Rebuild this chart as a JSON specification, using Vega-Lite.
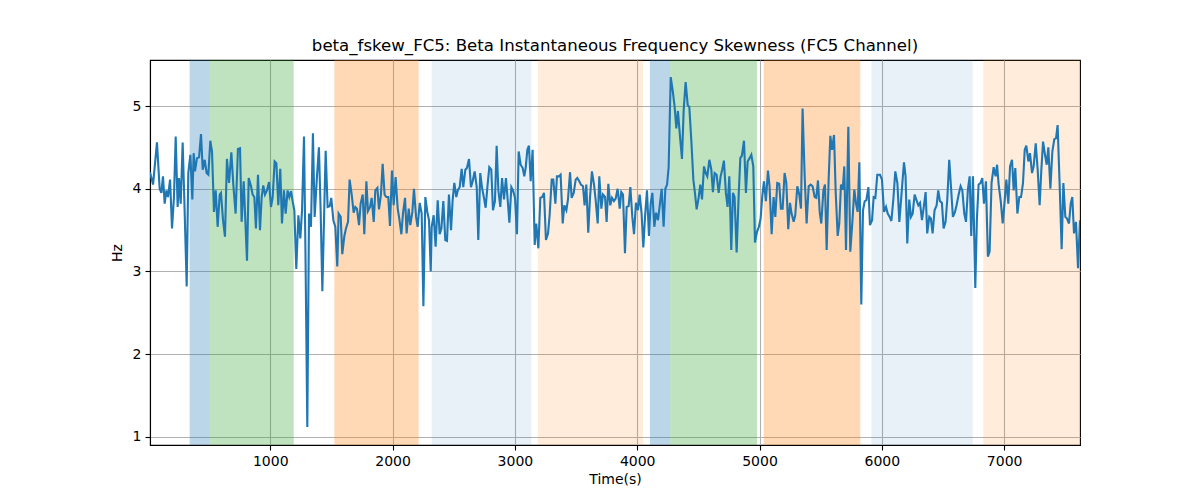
{
  "$schema": "https://vega.github.io/schema/vega-lite/v6.json",
  "width": 930,
  "height": 385,
  "autosize": {"type": "none"},
  "padding": {"left": 150, "top": 60, "right": 120, "bottom": 55},
  "background": "white",
  "title": {
    "text": "beta_fskew_FC5: Beta Instantaneous Frequency Skewness (FC5 Channel)",
    "font": "DejaVu Sans",
    "fontSize": 16.6,
    "fontWeight": "normal",
    "color": "black",
    "anchor": "middle",
    "offset": 5
  },
  "datasets": {
    "spans": [
      {"start": 341, "end": 505, "kind": "a"},
      {"start": 505, "end": 1192, "kind": "b"},
      {"start": 1524, "end": 2213, "kind": "c"},
      {"start": 2320, "end": 3134, "kind": "d"},
      {"start": 3188, "end": 4047, "kind": "e"},
      {"start": 4104, "end": 4270, "kind": "a"},
      {"start": 4270, "end": 4979, "kind": "b"},
      {"start": 5034, "end": 5824, "kind": "c"},
      {"start": 5914, "end": 6743, "kind": "d"},
      {"start": 6829, "end": 7620, "kind": "e"}
    ],
    "series": [
      {"t":17,"v":4.20},{"t":42,"v":4.05},{"t":74,"v":4.56},{"t":96,"v":4.00},{"t":110,"v":3.95},{"t":123,"v":4.15},{"t":137,"v":3.82},{"t":151,"v":3.98},{"t":164,"v":3.90},{"t":181,"v":4.11},{"t":197,"v":3.52},{"t":213,"v":3.90},{"t":227,"v":4.63},{"t":243,"v":3.78},{"t":254,"v":4.13},{"t":268,"v":3.82},{"t":284,"v":4.56},{"t":300,"v":3.74},{"t":317,"v":2.82},{"t":330,"v":4.19},{"t":347,"v":4.41},{"t":363,"v":3.87},{"t":374,"v":4.43},{"t":385,"v":4.21},{"t":401,"v":4.37},{"t":418,"v":4.38},{"t":434,"v":4.66},{"t":448,"v":4.23},{"t":464,"v":4.35},{"t":480,"v":4.19},{"t":494,"v":4.17},{"t":510,"v":4.58},{"t":524,"v":4.45},{"t":540,"v":3.72},{"t":554,"v":3.98},{"t":570,"v":3.54},{"t":587,"v":3.93},{"t":597,"v":3.95},{"t":614,"v":3.62},{"t":630,"v":3.42},{"t":646,"v":4.36},{"t":663,"v":4.07},{"t":682,"v":4.44},{"t":698,"v":4.05},{"t":717,"v":3.70},{"t":736,"v":4.48},{"t":753,"v":4.49},{"t":766,"v":3.60},{"t":783,"v":4.09},
      {"t":810,"v":3.13},{"t":824,"v":4.13},{"t":843,"v":4.03},{"t":856,"v":3.93},{"t":870,"v":3.90},{"t":883,"v":3.52},{"t":900,"v":4.17},{"t":916,"v":3.50},{"t":930,"v":3.90},{"t":943,"v":4.04},{"t":957,"v":3.93},{"t":973,"v":3.98},{"t":990,"v":4.08},{"t":1006,"v":3.78},{"t":1020,"v":3.90},{"t":1036,"v":4.33},{"t":1050,"v":4.31},{"t":1066,"v":3.80},{"t":1082,"v":4.24},{"t":1096,"v":3.58},{"t":1112,"v":3.98},{"t":1126,"v":3.70},{"t":1142,"v":3.98},{"t":1156,"v":3.90},{"t":1170,"v":3.97},{"t":1183,"v":3.85},{"t":1197,"v":3.74},{"t":1213,"v":3.03},{"t":1230,"v":3.68},{"t":1246,"v":3.40},{"t":1260,"v":3.74},{"t":1276,"v":4.63},{"t":1289,"v":3.10},{"t":1303,"v":1.12},{"t":1317,"v":3.70},{"t":1333,"v":3.54},{"t":1349,"v":4.67},{"t":1363,"v":3.66},{"t":1382,"v":4.15},{"t":1398,"v":4.50},{"t":1412,"v":3.74},{"t":1426,"v":2.76},{"t":1442,"v":3.78},{"t":1453,"v":4.46},{"t":1469,"v":3.78},{"t":1486,"v":3.79},{"t":1499,"v":3.89},{"t":1516,"v":3.62},{"t":1532,"v":3.54},{"t":1548,"v":3.06},
      {"t":1559,"v":3.70},{"t":1576,"v":3.66},{"t":1589,"v":3.21},{"t":1606,"v":3.43},{"t":1619,"v":3.52},{"t":1636,"v":3.60},{"t":1649,"v":4.11},{"t":1666,"v":3.93},{"t":1682,"v":3.71},{"t":1696,"v":3.78},{"t":1709,"v":3.76},{"t":1726,"v":3.56},{"t":1739,"v":3.82},{"t":1756,"v":3.93},{"t":1769,"v":3.45},{"t":1786,"v":4.09},{"t":1799,"v":3.73},{"t":1816,"v":3.78},{"t":1829,"v":3.89},{"t":1846,"v":3.60},{"t":1859,"v":3.98},{"t":1876,"v":4.01},{"t":1889,"v":3.75},{"t":1905,"v":3.93},{"t":1919,"v":4.30},{"t":1935,"v":3.93},{"t":1949,"v":3.90},{"t":1965,"v":3.90},{"t":1979,"v":3.55},{"t":1995,"v":4.22},{"t":2009,"v":3.80},{"t":2025,"v":4.14},{"t":2042,"v":3.76},{"t":2055,"v":3.64},{"t":2072,"v":3.45},{"t":2085,"v":3.70},{"t":2102,"v":3.89},{"t":2115,"v":3.46},{"t":2132,"v":3.76},{"t":2145,"v":3.56},{"t":2162,"v":3.72},{"t":2175,"v":4.00},{"t":2192,"v":3.66},{"t":2205,"v":3.54},{"t":2222,"v":3.83},{"t":2238,"v":3.70},{"t":2252,"v":2.58},{"t":2268,"v":3.90},{"t":2284,"v":3.72},{"t":2298,"v":3.62},{"t":2312,"v":3.00},
      {"t":2320,"v":3.54},{"t":2336,"v":3.68},{"t":2352,"v":3.30},{"t":2369,"v":3.86},{"t":2385,"v":3.45},{"t":2399,"v":3.52},{"t":2415,"v":3.85},{"t":2431,"v":3.38},{"t":2445,"v":3.37},{"t":2461,"v":3.93},{"t":2478,"v":3.50},{"t":2491,"v":3.86},{"t":2505,"v":4.07},{"t":2521,"v":3.90},{"t":2535,"v":3.99},{"t":2549,"v":4.02},{"t":2565,"v":4.24},{"t":2578,"v":4.02},{"t":2595,"v":4.23},{"t":2608,"v":4.25},{"t":2625,"v":4.36},{"t":2641,"v":4.02},{"t":2655,"v":4.09},{"t":2671,"v":4.21},{"t":2688,"v":4.02},{"t":2701,"v":3.38},{"t":2717,"v":4.19},{"t":2731,"v":4.02},{"t":2747,"v":3.89},{"t":2761,"v":3.77},{"t":2777,"v":4.05},{"t":2791,"v":4.26},{"t":2807,"v":4.23},{"t":2821,"v":3.74},{"t":2837,"v":3.85},{"t":2851,"v":4.52},{"t":2865,"v":3.98},{"t":2881,"v":3.78},{"t":2895,"v":4.13},{"t":2911,"v":3.87},{"t":2927,"v":4.13},{"t":2941,"v":3.87},{"t":2955,"v":3.59},{"t":2971,"v":4.02},{"t":2985,"v":3.98},{"t":3001,"v":3.89},{"t":3017,"v":3.45},{"t":3031,"v":4.45},{"t":3047,"v":4.29},{"t":3064,"v":4.25},{"t":3077,"v":4.15},
      {"t":3088,"v":4.25},{"t":3102,"v":4.47},{"t":3115,"v":4.52},{"t":3129,"v":4.09},{"t":3145,"v":4.47},{"t":3162,"v":3.32},{"t":3175,"v":3.58},{"t":3192,"v":3.28},{"t":3208,"v":3.89},{"t":3224,"v":3.90},{"t":3238,"v":3.95},{"t":3254,"v":3.38},{"t":3271,"v":3.46},{"t":3284,"v":3.68},{"t":3301,"v":4.11},{"t":3314,"v":4.11},{"t":3331,"v":3.82},{"t":3344,"v":4.15},{"t":3361,"v":4.15},{"t":3374,"v":4.17},{"t":3391,"v":3.58},{"t":3404,"v":3.80},{"t":3421,"v":3.74},{"t":3434,"v":3.87},{"t":3451,"v":4.20},{"t":3464,"v":3.89},{"t":3481,"v":3.95},{"t":3497,"v":4.11},{"t":3510,"v":4.13},{"t":3527,"v":4.09},{"t":3540,"v":4.05},{"t":3557,"v":4.03},{"t":3570,"v":3.80},{"t":3584,"v":4.05},{"t":3600,"v":3.47},{"t":3614,"v":3.89},{"t":3630,"v":4.21},{"t":3647,"v":4.05},{"t":3660,"v":3.87},{"t":3677,"v":3.58},{"t":3690,"v":4.15},{"t":3707,"v":3.76},{"t":3720,"v":3.93},{"t":3737,"v":3.90},{"t":3750,"v":3.60},{"t":3764,"v":4.06},{"t":3780,"v":3.80},{"t":3794,"v":3.89},{"t":3810,"v":3.85},{"t":3824,"v":3.88},{"t":3840,"v":4.00},
      {"t":3857,"v":3.76},{"t":3870,"v":3.96},{"t":3884,"v":3.93},{"t":3900,"v":3.22},{"t":3914,"v":3.78},{"t":3930,"v":3.79},{"t":3944,"v":4.02},{"t":3960,"v":3.66},{"t":3974,"v":3.45},{"t":3990,"v":3.83},{"t":4006,"v":3.74},{"t":4020,"v":3.93},{"t":4036,"v":3.70},{"t":4050,"v":3.29},{"t":4064,"v":3.66},{"t":4080,"v":3.98},{"t":4096,"v":3.43},{"t":4110,"v":3.82},{"t":4124,"v":3.95},{"t":4140,"v":3.54},{"t":4154,"v":3.71},{"t":4170,"v":3.62},{"t":4186,"v":3.82},{"t":4200,"v":4.00},{"t":4216,"v":3.54},{"t":4230,"v":4.00},{"t":4244,"v":4.05},{"t":4257,"v":4.26},{"t":4274,"v":5.35},{"t":4290,"v":5.19},{"t":4306,"v":4.99},{"t":4320,"v":4.73},{"t":4333,"v":4.94},{"t":4350,"v":4.63},{"t":4366,"v":4.36},{"t":4380,"v":4.95},{"t":4396,"v":5.29},{"t":4413,"v":5.01},{"t":4426,"v":4.99},{"t":4443,"v":4.57},{"t":4459,"v":4.11},{"t":4472,"v":3.95},{"t":4486,"v":3.75},{"t":4502,"v":3.89},{"t":4516,"v":4.05},{"t":4530,"v":3.87},{"t":4546,"v":4.27},{"t":4560,"v":4.19},{"t":4573,"v":4.15},{"t":4590,"v":4.35},{"t":4606,"v":4.23},
      {"t":4619,"v":3.96},{"t":4633,"v":4.19},{"t":4649,"v":4.17},{"t":4666,"v":3.95},{"t":4682,"v":4.15},{"t":4695,"v":4.23},{"t":4709,"v":4.34},{"t":4725,"v":3.95},{"t":4739,"v":3.78},{"t":4753,"v":4.15},{"t":4769,"v":3.26},{"t":4783,"v":3.95},{"t":4796,"v":3.90},{"t":4813,"v":3.23},{"t":4829,"v":3.90},{"t":4843,"v":4.37},{"t":4856,"v":4.40},{"t":4873,"v":4.58},{"t":4889,"v":3.95},{"t":4903,"v":4.33},{"t":4919,"v":4.37},{"t":4933,"v":4.41},{"t":4949,"v":4.27},{"t":4963,"v":3.35},{"t":4979,"v":3.48},{"t":4995,"v":3.54},{"t":5009,"v":3.64},{"t":5022,"v":3.90},{"t":5036,"v":4.09},{"t":5052,"v":3.85},{"t":5069,"v":4.22},{"t":5082,"v":4.03},{"t":5099,"v":3.45},{"t":5115,"v":3.90},{"t":5129,"v":3.66},{"t":5145,"v":4.07},{"t":5161,"v":4.06},{"t":5175,"v":3.76},{"t":5189,"v":3.76},{"t":5205,"v":4.19},{"t":5219,"v":4.07},{"t":5235,"v":3.51},{"t":5249,"v":3.83},{"t":5262,"v":3.70},{"t":5279,"v":3.60},{"t":5292,"v":3.68},{"t":5309,"v":4.03},{"t":5325,"v":3.93},{"t":5339,"v":3.76},{"t":5352,"v":4.97},{"t":5369,"v":4.15},{"t":5385,"v":3.58},
      {"t":5402,"v":4.03},{"t":5418,"v":4.05},{"t":5434,"v":4.03},{"t":5451,"v":3.90},{"t":5464,"v":3.89},{"t":5478,"v":4.10},{"t":5492,"v":3.72},{"t":5505,"v":3.58},{"t":5522,"v":3.98},{"t":5535,"v":4.05},{"t":5549,"v":3.26},{"t":5565,"v":4.11},{"t":5579,"v":4.64},{"t":5593,"v":4.47},{"t":5609,"v":4.65},{"t":5623,"v":3.95},{"t":5639,"v":3.43},{"t":5652,"v":3.58},{"t":5666,"v":4.05},{"t":5680,"v":3.99},{"t":5693,"v":4.27},{"t":5707,"v":3.26},{"t":5726,"v":4.75},{"t":5742,"v":3.24},{"t":5759,"v":3.60},{"t":5775,"v":3.99},{"t":5789,"v":3.82},{"t":5802,"v":3.72},{"t":5816,"v":4.32},{"t":5832,"v":2.60},{"t":5846,"v":3.74},{"t":5860,"v":3.85},{"t":5873,"v":3.86},{"t":5890,"v":4.02},{"t":5903,"v":3.56},{"t":5920,"v":3.62},{"t":5933,"v":3.90},{"t":5947,"v":3.89},{"t":5963,"v":4.17},{"t":5985,"v":4.17},{"t":6001,"v":4.11},{"t":6018,"v":3.72},{"t":6034,"v":3.78},{"t":6048,"v":3.70},{"t":6064,"v":3.66},{"t":6078,"v":3.61},{"t":6094,"v":3.87},{"t":6110,"v":4.21},{"t":6127,"v":4.07},{"t":6143,"v":3.60},
      {"t":6162,"v":3.96},{"t":6181,"v":4.32},{"t":6194,"v":4.15},{"t":6208,"v":3.34},{"t":6224,"v":3.87},{"t":6238,"v":3.66},{"t":6252,"v":3.70},{"t":6268,"v":3.93},{"t":6284,"v":3.86},{"t":6298,"v":3.80},{"t":6312,"v":3.83},{"t":6328,"v":3.62},{"t":6341,"v":3.76},{"t":6358,"v":3.96},{"t":6371,"v":3.46},{"t":6388,"v":3.66},{"t":6401,"v":3.64},{"t":6415,"v":3.46},{"t":6431,"v":3.74},{"t":6448,"v":3.80},{"t":6461,"v":3.98},{"t":6475,"v":3.85},{"t":6491,"v":3.83},{"t":6505,"v":3.52},{"t":6521,"v":3.60},{"t":6535,"v":3.87},{"t":6551,"v":4.35},{"t":6565,"v":4.03},{"t":6581,"v":3.66},{"t":6598,"v":3.72},{"t":6611,"v":3.80},{"t":6628,"v":3.93},{"t":6644,"v":4.03},{"t":6658,"v":3.98},{"t":6674,"v":3.70},{"t":6688,"v":3.60},{"t":6704,"v":4.00},{"t":6718,"v":4.15},{"t":6731,"v":3.43},{"t":6745,"v":4.15},{"t":6764,"v":2.80},{"t":6777,"v":3.63},{"t":6791,"v":4.05},{"t":6807,"v":4.07},{"t":6821,"v":4.13},{"t":6835,"v":3.82},{"t":6851,"v":4.09},{"t":6867,"v":3.18},{"t":6881,"v":3.24},{"t":6897,"v":4.07},{"t":6914,"v":4.26},{"t":6930,"v":4.15},
      {"t":6942,"v":4.29},{"t":6955,"v":4.05},{"t":6972,"v":3.85},{"t":6988,"v":3.58},{"t":7004,"v":3.85},{"t":7018,"v":4.11},{"t":7034,"v":3.82},{"t":7048,"v":4.27},{"t":7064,"v":4.35},{"t":7078,"v":3.98},{"t":7091,"v":4.25},{"t":7108,"v":3.70},{"t":7124,"v":3.90},{"t":7138,"v":3.90},{"t":7154,"v":4.07},{"t":7168,"v":4.47},{"t":7181,"v":4.52},{"t":7198,"v":4.33},{"t":7211,"v":4.43},{"t":7228,"v":4.19},{"t":7241,"v":4.27},{"t":7258,"v":4.55},{"t":7274,"v":4.23},{"t":7290,"v":3.80},{"t":7304,"v":4.23},{"t":7318,"v":4.57},{"t":7334,"v":4.41},{"t":7348,"v":4.29},{"t":7361,"v":4.50},{"t":7378,"v":4.00},{"t":7394,"v":4.45},{"t":7410,"v":4.60},{"t":7424,"v":4.61},{"t":7437,"v":4.77},{"t":7454,"v":4.03},{"t":7470,"v":3.27},{"t":7484,"v":4.07},{"t":7500,"v":3.66},{"t":7514,"v":3.64},{"t":7530,"v":3.58},{"t":7544,"v":3.82},{"t":7557,"v":3.90},{"t":7571,"v":3.46},{"t":7587,"v":3.60},{"t":7604,"v":3.04},{"t":7620,"v":3.62}
    ]
  },
  "encoding": {
    "x": {"type": "quantitative", "scale": {"domain": [17, 7620], "nice": false, "zero": false},
          "axis": {"title": "Time(s)", "values": [1000, 2000, 3000, 4000, 5000, 6000, 7000], "format": "d"}}
  },
  "layer": [
    {
      "data": {"name": "spans"},
      "transform": [{"filter": "datum.kind === 'a'"}],
      "mark": {"type": "rect", "clip": true, "fill": "#1f77b4", "fillOpacity": 0.3},
      "encoding": {"x": {"field": "start", "type": "quantitative", "title": "Time(s)"}, "x2": {"field": "end"}}
    },
    {
      "data": {"name": "spans"},
      "transform": [{"filter": "datum.kind === 'b'"}],
      "mark": {"type": "rect", "clip": true, "fill": "#2ca02c", "fillOpacity": 0.3},
      "encoding": {"x": {"field": "start", "type": "quantitative", "title": "Time(s)"}, "x2": {"field": "end"}}
    },
    {
      "data": {"name": "spans"},
      "transform": [{"filter": "datum.kind === 'c'"}],
      "mark": {"type": "rect", "clip": true, "fill": "#ff7f0e", "fillOpacity": 0.3},
      "encoding": {"x": {"field": "start", "type": "quantitative", "title": "Time(s)"}, "x2": {"field": "end"}}
    },
    {
      "data": {"name": "spans"},
      "transform": [{"filter": "datum.kind === 'd'"}],
      "mark": {"type": "rect", "clip": true, "fill": "#1f77b4", "fillOpacity": 0.1},
      "encoding": {"x": {"field": "start", "type": "quantitative", "title": "Time(s)"}, "x2": {"field": "end"}}
    },
    {
      "data": {"name": "spans"},
      "transform": [{"filter": "datum.kind === 'e'"}],
      "mark": {"type": "rect", "clip": true, "fill": "#ff7f0e", "fillOpacity": 0.15},
      "encoding": {"x": {"field": "start", "type": "quantitative", "title": "Time(s)"}, "x2": {"field": "end"}}
    },
    {
      "data": {"name": "series"},
      "mark": {"type": "line", "color": "#1f77b4", "strokeWidth": 2.1, "clip": true},
      "encoding": {
        "x": {"field": "t", "type": "quantitative", "title": "Time(s)"},
        "y": {"field": "v", "type": "quantitative", "scale": {"domain": [0.903, 5.556], "nice": false, "zero": false},
              "axis": {"title": "Hz", "values": [1, 2, 3, 4, 5], "format": "d"}}
      }
    }
  ],
  "config": {
    "view": {"stroke": "black", "strokeWidth": 1.1},
    "axis": {
      "domainColor": "black",
      "domainWidth": 1.1,
      "tickColor": "black",
      "tickWidth": 1.1,
      "tickSize": 5,
      "labelPadding": 4,
      "labelColor": "black",
      "labelFont": "DejaVu Sans",
      "labelFontSize": 14,
      "titleColor": "black",
      "titleFont": "DejaVu Sans",
      "titleFontSize": 14,
      "titleFontWeight": "normal",
      "gridColor": "#b0b0b0",
      "gridWidth": 1.1,
      "gridOpacity": 1
    },
    "axisX": {"titlePadding": 4},
    "axisY": {"titlePadding": 8}
  }
}
